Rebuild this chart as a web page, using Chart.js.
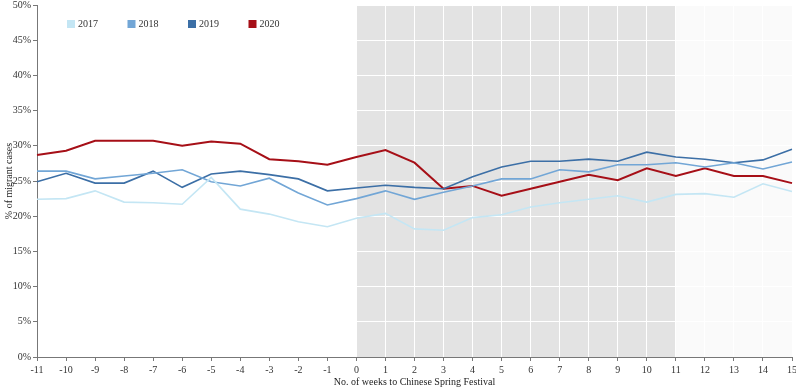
<!DOCTYPE html>
<html lang="en">
<head>
<meta charset="UTF-8">
<title>Migrant cases by week to Chinese Spring Festival</title>
<script src="https://cdn.jsdelivr.net/npm/chart.js"></script>
<style>
    html, body { margin: 0; padding: 0; background: #fff; }
    #wrap { width: 796px; height: 388px; }
</style>
</head>
<body>
<div id="wrap"><canvas id="grafico"></canvas></div>
<script>
    // weeks relative to the festival
    const semanas = [-11,-10,-9,-8,-7,-6,-5,-4,-3,-2,-1,0,1,2,3,4,5,6,7,8,9,10,11,12,13,14,15];

    // % of migrant cases
    const y2017 = [22.4,22.5,23.6,22.0,21.9,21.7,25.5,21.0,20.3,19.2,18.5,19.7,20.4,18.2,18.0,19.8,20.2,21.3,21.9,22.4,22.9,22.0,23.1,23.2,22.7,24.6,23.5];
    const y2018 = [26.4,26.4,25.3,25.7,26.1,26.6,24.9,24.3,25.4,23.3,21.6,22.5,23.6,22.4,23.4,24.3,25.3,25.3,26.6,26.3,27.3,27.3,27.6,27.0,27.6,26.7,27.7];
    const y2019 = [24.9,26.1,24.7,24.7,26.4,24.1,26.0,26.4,25.9,25.3,23.6,24.0,24.4,24.1,23.9,25.6,27.0,27.8,27.8,28.1,27.8,29.1,28.4,28.1,27.6,28.0,29.5];
    const y2020 = [28.7,29.3,30.7,30.7,30.7,30.0,30.6,30.3,28.1,27.8,27.3,28.4,29.4,27.6,23.9,24.3,22.9,23.9,24.9,25.9,25.1,26.8,25.7,26.8,25.7,25.7,24.7];

    const anos = ['2017', '2018', '2019', '2020'];
    const cores = ['#c4e6f4', '#72a6d6', '#3c6fa6', '#a60f17'];

    const fonte = "'Liberation Serif', 'Times New Roman', serif";

    // shaded periods: 0..11 grey, 11..15 very light grey
    const faixas = [
        { de: 0, ate: 11, cor: '#e3e3e3' },
        { de: 11, ate: 15, cor: '#fafafa' }
    ];

    const fundo = {
        id: 'fundo',
        beforeDraw(chart) {
            const ctx = chart.ctx;
            const area = chart.chartArea;
            const x = chart.scales.x;
            ctx.save();
            faixas.forEach(f => {
                const x0 = x.getPixelForValue(semanas.indexOf(f.de));
                const x1 = x.getPixelForValue(semanas.indexOf(f.ate));
                ctx.fillStyle = f.cor;
                ctx.fillRect(x0, area.top, x1 - x0, area.bottom - area.top);
            });
            ctx.restore();
        }
    };

    // legend drawn inside the plot, top left
    const legenda = {
        id: 'legenda',
        afterDraw(chart) {
            const ctx = chart.ctx;
            ctx.save();
            ctx.font = '10px ' + fonte;
            ctx.textBaseline = 'middle';
            chart.data.datasets.forEach((ds, i) => {
                const x = 67 + i * 60.5;
                const y = 24;
                ctx.fillStyle = ds.borderColor;
                ctx.fillRect(x, y - 4, 8, 8);
                ctx.fillStyle = '#333';
                ctx.fillText(ds.label, x + 11, y + 0.5);
            });
            ctx.restore();
        }
    };

    const series = [y2017, y2018, y2019, y2020];

    new Chart(document.getElementById('grafico'), {
        type: 'line',
        data: {
            labels: semanas.map(String),
            datasets: series.map((s, i) => ({
                label: anos[i],
                data: s,
                borderColor: cores[i],
                backgroundColor: cores[i],
                borderWidth: i === 3 ? 2 : 1.6,
                pointRadius: 0,
                tension: 0,
                fill: false
            }))
        },
        options: {
            responsive: true,
            maintainAspectRatio: false,
            animation: false,
            layout: { padding: { top: 5, right: 4, left: 3, bottom: 0 } },
            plugins: {
                legend: { display: false },
                tooltip: { enabled: false }
            },
            scales: {
                x: {
                    offset: false,
                    afterFit(scale) {
                        scale.height = 31;
                        scale.paddingLeft = 0;
                        scale.paddingRight = 0;
                    },
                    grid: {
                        color: '#ffffff',
                        lineWidth: 1,
                        tickColor: '#777',
                        tickLength: 4
                    },
                    border: { color: '#777', width: 1 },
                    ticks: {
                        color: '#333',
                        font: { family: fonte, size: 10 },
                        padding: 3,
                        maxRotation: 0,
                        autoSkip: false
                    },
                    title: {
                        display: true,
                        text: 'No. of weeks to Chinese Spring Festival',
                        color: '#222',
                        font: { family: fonte, size: 10 },
                        padding: { top: 0, bottom: 0 }
                    }
                },
                y: {
                    min: 0,
                    max: 50,
                    afterFit(scale) {
                        scale.width = 34;
                        scale.paddingTop = 0;
                        scale.paddingBottom = 0;
                    },
                    grid: {
                        color: '#ffffff',
                        lineWidth: 1,
                        tickColor: '#777',
                        tickLength: 4
                    },
                    border: { color: '#777', width: 1 },
                    ticks: {
                        stepSize: 5,
                        color: '#333',
                        font: { family: fonte, size: 10 },
                        padding: 2,
                        callback: v => v + '%'
                    },
                    title: {
                        display: true,
                        text: '% of migrant cases',
                        color: '#222',
                        font: { family: fonte, size: 10 },
                        padding: { top: 0, bottom: 0 }
                    }
                }
            }
        },
        plugins: [fundo, legenda]
    });
</script>
</body>
</html>
